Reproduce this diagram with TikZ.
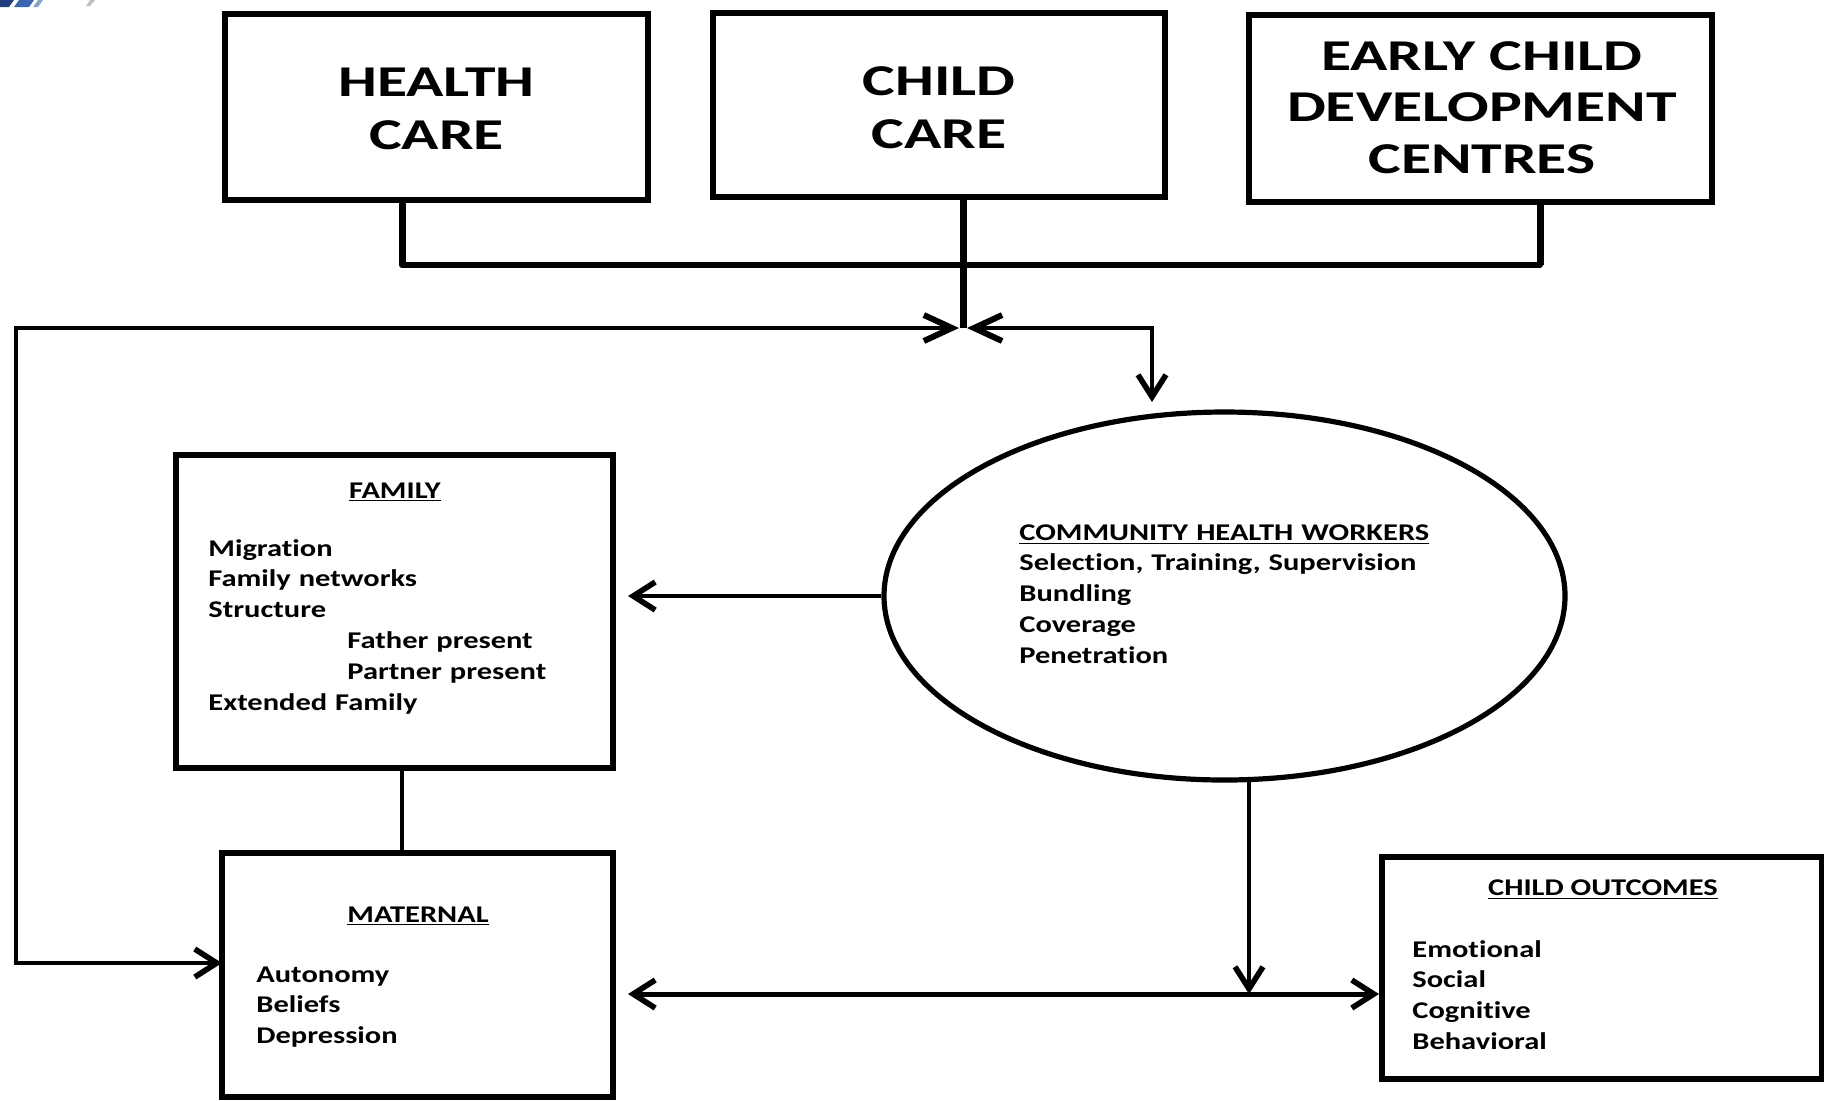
\documentclass[tikz,border=0pt]{standalone}
\usepackage{fontspec}
\newfontfamily\bodyfont{Carlito}[FakeStretch=1.27,Ligatures=NoCommon]
\newfontfamily\headfont{Carlito}[FakeStretch=1.40,Ligatures=NoCommon]
\usetikzlibrary{arrows.meta,shapes.geometric}
\definecolor{logonavy}{HTML}{1F3F7F}
\definecolor{logoblue}{HTML}{3A66B0}
\begin{document}
\begin{tikzpicture}[x=0.5pt,y=-0.5pt,
  >={Straight Barb[length=11pt,width=14pt,line width=2.8pt]},
  hubtip/.style={arrows={Straight Barb[length=14pt,width=13pt,line width=3pt]-Straight Barb[length=11pt,width=14pt,line width=2.8pt]}},
  box/.style={draw,line width=3pt,rectangle,inner sep=0pt},
  wire/.style={line width=2.25pt},
  feeder/.style={line width=3.5pt},
  headtext/.style={font=\headfont\bfseries\fontsize{22pt}{26.5pt}\selectfont,
    text width=240pt,align=center,anchor=base,inner sep=0pt},
  ecdtext/.style={headtext,font=\headfont\bfseries\fontsize{22pt}{25.75pt}\selectfont},
  title/.style={font=\bodyfont\bfseries\fontsize{12pt}{15.4pt}\selectfont,
    anchor=base,inner sep=0pt},
  body/.style={font=\bodyfont\bfseries\fontsize{12pt}{15.4pt}\selectfont,
    text width=200pt,align=left,anchor=base west,inner sep=0pt},
]
\useasboundingbox (0,0) rectangle (1824,1100);

% corner of a logo at the top edge
\fill[logonavy] (0,0) -- (14,0) -- (9,7) -- (0,7) -- cycle;
\fill[logoblue] (19,0) -- (34,0) -- (29,7) -- (14,7) -- cycle;
\fill[logoblue!60] (38,0) -- (43,0) -- (38,7) -- (33,7) -- cycle;
\fill[black!25] (90,0) -- (95,0) -- (90,6) -- (86,6) -- cycle;

% service boxes
\node[box,minimum width=211.5pt,minimum height=93pt] (health) at (436.5,107) {};
\node[box,minimum width=226pt,minimum height=92pt] (childcare) at (939,105) {};
\node[box,minimum width=231.5pt,minimum height=93.5pt] (ecd) at (1480.5,108.5) {};
\node[headtext] (healthtxt) at (436.5,96) {HEALTH\\CARE};
\node[headtext] (childtxt) at (939,95) {CHILD\\CARE};
\node[ecdtext] (ecdtxt) at (1482,70) {EARLY CHILD\\DEVELOPMENT\\CENTRES};

% family, maternal and outcome boxes
\node[box,minimum width=218.5pt,minimum height=156.5pt] (family) at (394.5,611.5) {};
\node[box,minimum width=195.5pt,minimum height=122pt] (maternal) at (417.5,975) {};
\node[box,minimum width=220pt,minimum height=111pt] (outcomes) at (1602,968) {};

\node[title] (famtitle) at (395,498) {\underline{FAMILY}};
\node[body] (famtxt) at (208,556) {Migration\\Family networks\\Structure\\
  \hspace*{69.5pt}Father present\\\hspace*{69.5pt}Partner present\\Extended Family};

\node[title] (mattitle) at (418,922) {\underline{MATERNAL}};
\node[body] (mattxt) at (256,982) {Autonomy\\Beliefs\\Depression};

\node[title] (outtitle) at (1603,895) {\underline{CHILD OUTCOMES}};
\node[body] (outtxt) at (1412,957) {Emotional\\Social\\Cognitive\\Behavioral};

% community health workers
\node[draw,ellipse,line width=2.6pt,inner sep=0pt,
  minimum width=340.5pt,minimum height=184pt] (chw) at (1224.5,596) {};
\node[body,text width=260pt] (chwtxt) at (1019,540)
  {\underline{COMMUNITY HEALTH WORKERS}\\Selection, Training, Supervision\\Bundling\\Coverage\\Penetration};

% junction points
\coordinate (busL) at (402,265);
\coordinate (busR) at (1540,265);
\coordinate (hub) at (963,328);
\coordinate (hubL) at (959,328);
\coordinate (hubR) at (967,328);
\coordinate (loopTop) at (16,328);
\coordinate (loopBot) at (16,963);
\coordinate (matIn) at (222,963);
\coordinate (turn) at (1152,328);
\coordinate (chwIn) at (1152,402);
\coordinate (famIn) at (628,596);
\coordinate (chwOut) at (1249,779);
\coordinate (joint) at (1249,994);
\coordinate (dblL) at (628,994);
\coordinate (famLink) at (402,768);

% connectors from the service boxes
\draw[feeder] (busL |- health.south) -- (busL);
\draw[feeder] (busR |- ecd.south) -- (busR);
\draw[line width=3pt,line cap=round] (busL) -- (busR);
\draw[feeder] (hub |- childcare.south) -- (hub);

% loops through the hub
\draw[wire,hubtip] (hubL) -- (loopTop) -- (loopBot) -- (matIn);
\draw[wire,hubtip] (hubR) -- (turn) -- (chwIn);

% remaining links
\draw[wire,->] (chw.west) -- (famIn);
\draw[wire] (famLink) -- (famLink |- maternal.north);
\draw[wire,->] (chwOut) -- (joint);
\draw[line width=2.5pt,<->] (dblL) -- (dblL -| outcomes.west);
\end{tikzpicture}
\end{document}
